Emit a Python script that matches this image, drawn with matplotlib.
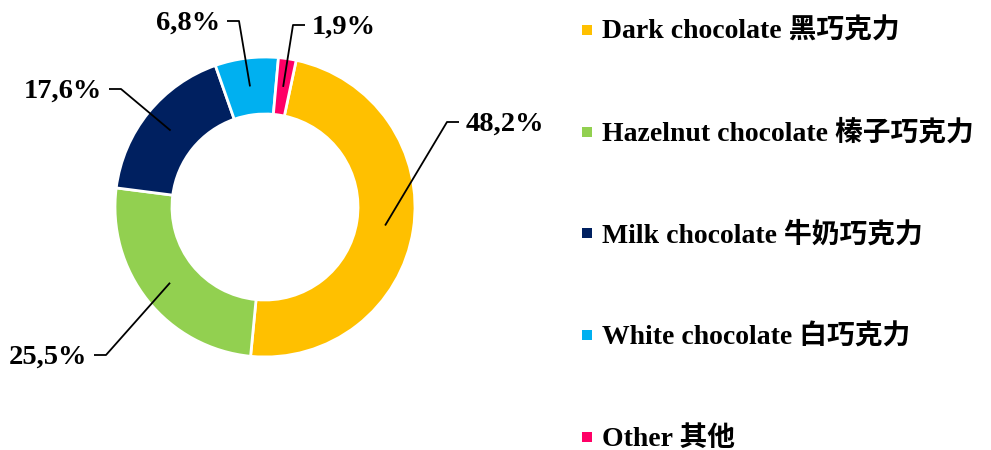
import numpy as np
import matplotlib.pyplot as plt

# chocolate type shares (%)
categories = [
    "Dark chocolate 黑巧克力",
    "Hazelnut chocolate 榛子巧克力",
    "Milk chocolate 牛奶巧克力",
    "White chocolate 白巧克力",
    "Other 其他",
]
shares = [48.2, 25.5, 17.6, 6.8, 1.9]
colors = ["#FFC000", "#92D050", "#002060", "#00B0F0", "#FF0066"]

FONT = ["Liberation Serif", "Noto Sans CJK SC", "DejaVu Sans"]
plt.rcParams["font.family"] = FONT

W, H = 991, 450
fig = plt.figure(figsize=(W / 100, H / 100), dpi=100)
ax = fig.add_axes([0, 0, 1, 1])

cx, cy, R, ring = 265, 243, 150, 57
wedges, _ = ax.pie(
    shares, colors=colors, startangle=78, counterclock=False,
    center=(cx, cy), radius=R, frame=True,
    wedgeprops=dict(width=ring, edgecolor="white", linewidth=2),
)
ax.set_xlim(0, W)
ax.set_ylim(0, H)
ax.axis("off")

# leader-line elbows (pixel space, y up) and which side the label sits on
elbows = [(447, 328), (106, 95), (121, 361), (239, 429), (293, 425)]
sides = [1, -1, -1, -1, 1]

r_mid = R - ring / 2
for w, v, (ex, ey), s in zip(wedges, shares, elbows, sides):
    ang = np.deg2rad((w.theta1 + w.theta2) / 2)
    ax0, ay0 = cx + r_mid * np.cos(ang), cy + r_mid * np.sin(ang)
    xe = ex + 12 * s
    ax.plot([ax0, ex, xe], [ay0, ey, ey], color="black", lw=1.3,
            solid_capstyle="butt")
    ax.text(xe + 7 * s, ey - 2, f"{v:.1f}%".replace(".", ","),
            ha="left" if s > 0 else "right", va="center",
            fontsize=20.5, fontweight="bold", color="black")

# legend
for i, (lab, c) in enumerate(zip(categories, colors)):
    y = H - 30 - i * 101.7
    ax.scatter([587], [y], marker="s", s=60, color=c, linewidths=0)
    ax.text(602, y - 2, lab, ha="left", va="center", fontsize=20,
            fontweight="bold", color="black")

fig.savefig("out.png", dpi=100)
